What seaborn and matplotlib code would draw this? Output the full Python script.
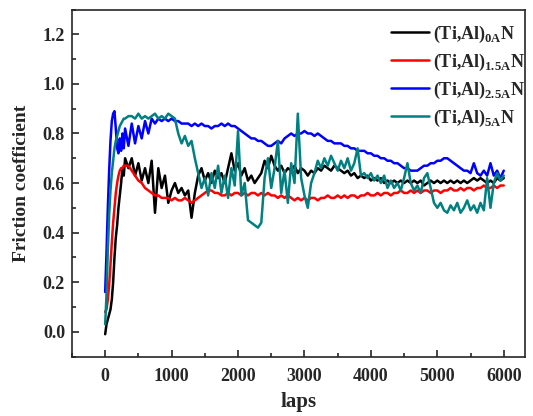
import numpy as np
import pandas as pd
import matplotlib
matplotlib.use('Agg')
import matplotlib.pyplot as plt
import seaborn as sns
from matplotlib.ticker import MultipleLocator

# laps grid (finer during run-in)
laps = [0, 20, 40, 60, 80, 100, 120, 140, 160, 180, 200, 220, 240, 260, 280, 300] + list(range(350, 6001, 50))

mu_0A = [
    -0.01, 0.03, 0.05, 0.07, 0.09, 0.13, 0.20, 0.30, 0.38, 0.43, 0.50, 0.55, 0.60, 0.66, 0.63, 0.70,
    0.66, 0.70, 0.63, 0.68, 0.61, 0.66, 0.60, 0.69, 0.48, 0.66,
    0.58, 0.63, 0.52, 0.57, 0.60, 0.56, 0.58, 0.55, 0.57, 0.46,
    0.56, 0.63, 0.66, 0.61, 0.64, 0.60, 0.65, 0.62, 0.64, 0.60,
    0.66, 0.72, 0.65, 0.68, 0.63, 0.66, 0.61, 0.63, 0.60, 0.62,
    0.64, 0.69, 0.66, 0.71, 0.67, 0.65, 0.67, 0.64, 0.66, 0.65,
    0.67, 0.64, 0.66, 0.65, 0.63, 0.65, 0.64, 0.66, 0.65, 0.67,
    0.66, 0.65, 0.67, 0.66, 0.65, 0.64, 0.65, 0.63, 0.64, 0.62,
    0.63, 0.62, 0.63, 0.61, 0.62, 0.61, 0.62, 0.60, 0.61, 0.60,
    0.61, 0.60, 0.61, 0.60, 0.61, 0.60, 0.61, 0.60, 0.61, 0.59,
    0.60, 0.61, 0.60, 0.61, 0.60, 0.61, 0.60, 0.61, 0.60, 0.61,
    0.60, 0.61, 0.60, 0.61, 0.62, 0.61, 0.62, 0.61, 0.60, 0.61,
    0.60, 0.62, 0.61, 0.62,
]

mu_15A = [
    0.08, 0.09, 0.13, 0.19, 0.27, 0.36, 0.44, 0.50, 0.56, 0.60, 0.63, 0.65, 0.66, 0.66, 0.67, 0.67,
    0.67, 0.65, 0.63, 0.61, 0.60, 0.58, 0.57, 0.56, 0.55, 0.55,
    0.54, 0.54, 0.54, 0.53, 0.54, 0.53, 0.53, 0.54, 0.53, 0.52,
    0.53, 0.54, 0.55, 0.56, 0.57, 0.57, 0.56, 0.56, 0.55, 0.55,
    0.56, 0.55, 0.56, 0.56, 0.55, 0.56, 0.55, 0.56, 0.56, 0.55,
    0.56, 0.55, 0.56, 0.55, 0.55, 0.54, 0.55, 0.54, 0.55, 0.54,
    0.53, 0.54, 0.53, 0.54, 0.53, 0.54, 0.54, 0.53, 0.54, 0.54,
    0.55, 0.54, 0.54, 0.55, 0.54, 0.55, 0.54, 0.55, 0.55, 0.54,
    0.55, 0.55, 0.56, 0.55, 0.55, 0.56, 0.55, 0.56, 0.56, 0.55,
    0.56, 0.56, 0.57, 0.56, 0.56, 0.57, 0.56, 0.57, 0.56, 0.57,
    0.57, 0.56, 0.57, 0.57, 0.56, 0.57, 0.57, 0.58, 0.57, 0.57,
    0.58, 0.57, 0.58, 0.58, 0.57, 0.58, 0.58, 0.59, 0.58, 0.58,
    0.59, 0.58, 0.59, 0.59,
]

mu_25A = [
    0.16, 0.32, 0.50, 0.65, 0.77, 0.85, 0.88, 0.89, 0.82, 0.74, 0.72, 0.78, 0.73, 0.80, 0.74, 0.82,
    0.75, 0.84, 0.76, 0.83, 0.78, 0.85, 0.80, 0.86, 0.84, 0.86,
    0.85, 0.86, 0.85, 0.86, 0.85, 0.85, 0.84, 0.84, 0.84, 0.83,
    0.84, 0.83, 0.84, 0.83, 0.83, 0.82, 0.83, 0.83, 0.84, 0.83,
    0.84, 0.83, 0.83, 0.82, 0.81, 0.80, 0.79, 0.78, 0.78, 0.77,
    0.77, 0.76, 0.75, 0.75, 0.76, 0.77, 0.76, 0.78, 0.79, 0.80,
    0.79, 0.80, 0.80, 0.81, 0.80, 0.80, 0.79, 0.80, 0.79, 0.78,
    0.77, 0.77, 0.76, 0.76, 0.76, 0.75, 0.75, 0.74, 0.74, 0.73,
    0.73, 0.73, 0.72, 0.72, 0.71, 0.71, 0.70, 0.70, 0.69, 0.69,
    0.68, 0.68, 0.67, 0.66, 0.66, 0.65, 0.65, 0.65, 0.66, 0.67,
    0.67, 0.68, 0.68, 0.69, 0.69, 0.70, 0.70, 0.69, 0.68, 0.67,
    0.66, 0.65, 0.65, 0.64, 0.68, 0.64, 0.63, 0.65, 0.63, 0.68,
    0.63, 0.65, 0.62, 0.65,
]

mu_5A = [
    0.03, 0.15, 0.33, 0.47, 0.57, 0.64, 0.69, 0.74, 0.77, 0.79, 0.81, 0.83, 0.84, 0.85, 0.86, 0.86,
    0.87, 0.87, 0.86, 0.88, 0.86, 0.87, 0.86, 0.87, 0.88, 0.86,
    0.87, 0.86, 0.88, 0.87, 0.86, 0.80, 0.76, 0.79, 0.75, 0.77,
    0.70, 0.64, 0.58, 0.62, 0.55, 0.64, 0.58, 0.67, 0.56, 0.63,
    0.54, 0.66, 0.59, 0.81, 0.55, 0.60, 0.45, 0.44, 0.43, 0.42,
    0.44, 0.62, 0.70, 0.58, 0.66, 0.77, 0.56, 0.65, 0.52, 0.68,
    0.60, 0.88, 0.62, 0.55, 0.50, 0.60, 0.64, 0.69, 0.66, 0.70,
    0.67, 0.71, 0.68, 0.65, 0.69, 0.66, 0.70, 0.65, 0.68, 0.74,
    0.63, 0.64, 0.62, 0.64, 0.61, 0.63, 0.60, 0.63, 0.58, 0.61,
    0.58, 0.60, 0.57, 0.62, 0.68, 0.60, 0.57, 0.59, 0.56, 0.62,
    0.64, 0.58, 0.52, 0.50, 0.52, 0.49, 0.48, 0.51, 0.49, 0.52,
    0.48, 0.50, 0.53, 0.49, 0.51, 0.48, 0.52, 0.49, 0.62, 0.50,
    0.60, 0.64, 0.61, 0.63,
]

labels = [r'(Ti,Al)$_{\mathbf{0A}}$N', r'(Ti,Al)$_{\mathbf{1.5A}}$N',
          r'(Ti,Al)$_{\mathbf{2.5A}}$N', r'(Ti,Al)$_{\mathbf{5A}}$N']
colors = ['#000000', '#ff0000', '#0000ff', '#008080']

frames = []
for lab, vals in zip(labels, [mu_0A, mu_15A, mu_25A, mu_5A]):
    frames.append(pd.DataFrame({'laps': laps, 'mu': vals, 'sample': lab}))
df = pd.concat(frames, ignore_index=True)

sns.set_style('ticks')
plt.rcParams['font.family'] = ['Liberation Serif', 'DejaVu Serif']
plt.rcParams['font.weight'] = 'bold'
plt.rcParams['mathtext.fontset'] = 'custom'
plt.rcParams['mathtext.rm'] = 'Liberation Serif:bold'
plt.rcParams['mathtext.bf'] = 'Liberation Serif:bold'

fig = plt.figure(figsize=(5.33, 4.16), dpi=100)
ax = fig.add_axes([0.135, 0.143, 0.85, 0.834])

sns.lineplot(data=df, x='laps', y='mu', hue='sample', palette=dict(zip(labels, colors)),
             hue_order=labels, estimator=None, sort=False, linewidth=1.8, ax=ax)

ax.set_xlim(-500, 6320)
ax.set_ylim(-0.1, 1.3)
ax.set_xticks(range(0, 6001, 1000))
ax.set_yticks(np.arange(0, 1.21, 0.2))
ax.xaxis.set_minor_locator(MultipleLocator(500))
ax.yaxis.set_minor_locator(MultipleLocator(0.1))
ax.tick_params(which='both', direction='in', top=False, right=False, labelsize=13, width=1.2)
ax.tick_params(which='major', length=5)
ax.tick_params(which='minor', length=3)
ax.tick_params(axis='x', which='major', pad=8)
ax.tick_params(axis='y', which='major', pad=5)
for lbl in ax.get_xticklabels() + ax.get_yticklabels():
    lbl.set_fontweight('bold')
for s in ax.spines.values():
    s.set_linewidth(1.2)
    s.set_visible(True)

ax.set_xlabel('laps', fontsize=15, fontweight='bold', labelpad=5)
ax.set_ylabel('Friction coefficient', fontsize=14, fontweight='bold', labelpad=9)

leg = ax.legend(loc='upper left', bbox_to_anchor=(0.705, 0.96), frameon=False, fontsize=13,
                handlelength=2.1, labelspacing=0.38, borderaxespad=0, borderpad=0,
                handletextpad=0.2)
for line in leg.get_lines():
    line.set_linewidth(1.8)

fig.savefig('out.png', dpi=100)
